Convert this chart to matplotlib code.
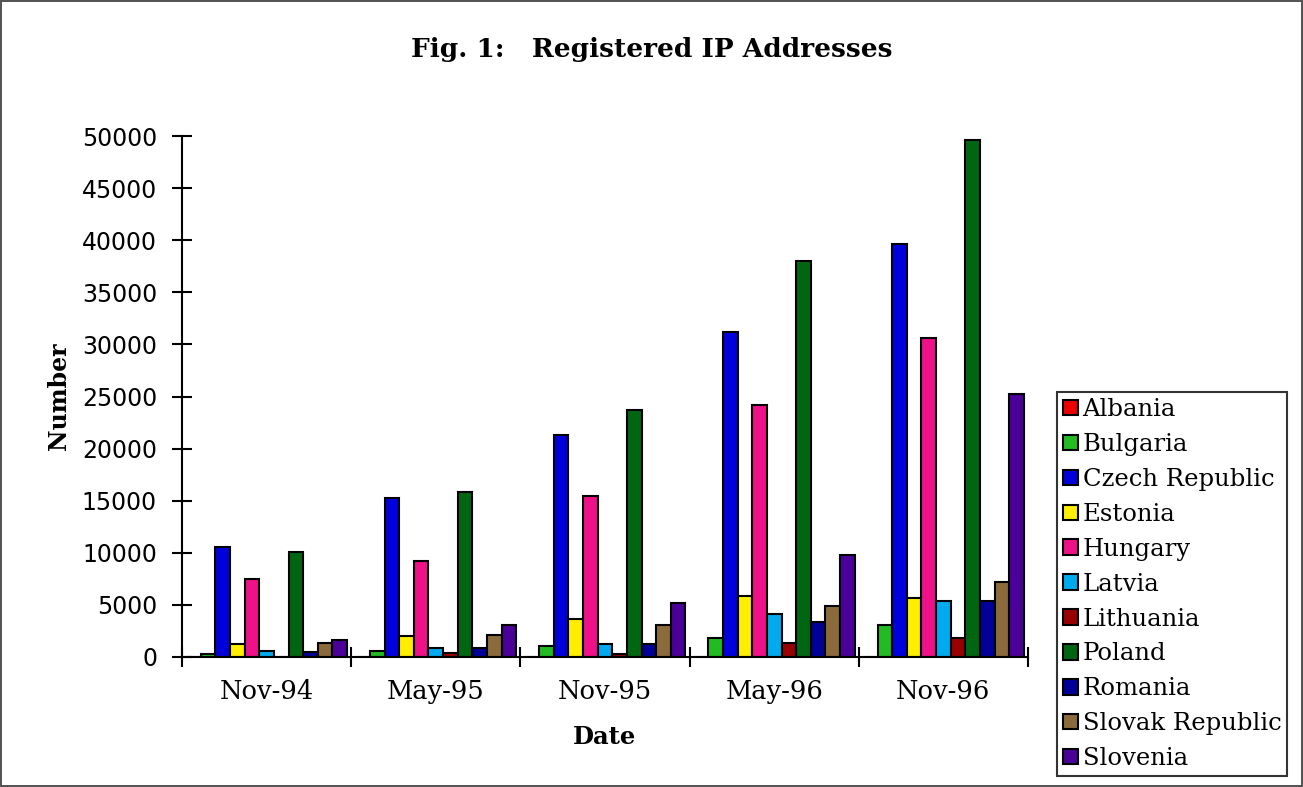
import numpy as np
import matplotlib
matplotlib.use("Agg")
from matplotlib import pyplot as plt

# dates on the x axis
dates = ["Nov-94", "May-95", "Nov-95", "May-96", "Nov-96"]

# registered IP addresses per country
albania = [0, 0, 0, 0, 0]
bulgaria = [300, 600, 1050, 1850, 3100]
czech = [10600, 15300, 21350, 31150, 39600]
estonia = [1250, 2000, 3650, 5850, 5650]
hungary = [7500, 9250, 15450, 24200, 30600]
latvia = [600, 850, 1250, 4150, 5400]
lithuania = [0, 350, 300, 1350, 1850]
poland = [10100, 15800, 23700, 38000, 49600]
romania = [500, 850, 1250, 3350, 5400]
slovak = [1300, 2100, 3100, 4900, 7200]
slovenia = [1600, 3100, 5200, 9800, 25200]

pays = ["Albania", "Bulgaria", "Czech Republic", "Estonia", "Hungary", "Latvia",
        "Lithuania", "Poland", "Romania", "Slovak Republic", "Slovenia"]
series = [albania, bulgaria, czech, estonia, hungary, latvia,
          lithuania, poland, romania, slovak, slovenia]
couleurs = ["#ee0000", "#22bb22", "#0000dd", "#ffee00", "#ee1188", "#00aaee",
            "#990000", "#006611", "#000099", "#8b6b3b", "#4b0099"]

fig = plt.figure(figsize=(13.03, 7.87), dpi=100)
fig.patch.set_edgecolor("#555555")
fig.patch.set_linewidth(1.5)
ax = fig.add_axes([182 / 1303, 1 - 657 / 787, (1028 - 182) / 1303, (657 - 136) / 787])

x = np.arange(len(dates))
largeur = 0.0865
n = len(series)
for i, (nom, vals, c) in enumerate(zip(pays, series, couleurs)):
    pos = x - n * largeur / 2 + (i + 0.5) * largeur
    ax.bar(pos, vals, width=largeur, color=c, edgecolor="black", linewidth=1.5, label=nom)

ax.set_xlim(-0.5, len(dates) - 0.5)
ax.set_ylim(0, 50000)
ax.set_yticks(np.arange(0, 50001, 5000))
ax.set_xticks(np.arange(-0.5, len(dates)), labels=[""] * (len(dates) + 1))
ax.set_xticks(x, labels=dates, minor=True)
ax.tick_params(axis="x", which="major", direction="inout", length=14, width=1.5)
ax.tick_params(axis="x", which="minor", length=0, pad=16)
ax.tick_params(axis="y", direction="inout", length=14, width=1.5, pad=11)
for t in ax.get_yticklabels():
    t.set_fontsize(17)
    t.set_family("DejaVu Sans")
for t in ax.get_xticklabels(minor=True):
    t.set_fontsize(18.5)
    t.set_family("DejaVu Serif")

for s in ["top", "right"]:
    ax.spines[s].set_visible(False)
ax.spines["left"].set_linewidth(1.5)
ax.spines["bottom"].set_linewidth(1.5)

ax.set_xlabel("Date", fontsize=17.5, fontweight="bold", family="DejaVu Serif", labelpad=15)
ax.set_ylabel("Number", fontsize=17, fontweight="bold", family="DejaVu Serif", labelpad=8)

fig.text(0.5, 1 - 50 / 787, "Fig. 1:   Registered IP Addresses", ha="center", va="center",
         fontsize=19, fontweight="bold", family="DejaVu Serif")

leg = fig.legend(loc="upper left", bbox_to_anchor=(1057 / 1303, 1 - 392 / 787),
                 prop={"family": "DejaVu Serif", "size": 17.5}, frameon=True, fancybox=False,
                 edgecolor="black", handlelength=0.6, handleheight=0.6, handletextpad=0.2,
                 labelspacing=0.49, borderpad=0.25, borderaxespad=0)
leg.get_frame().set_linewidth(1.5)

plt.savefig("out.png", dpi=100)
